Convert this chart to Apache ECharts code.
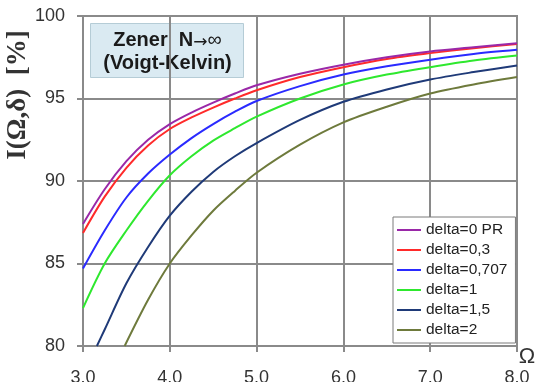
<!DOCTYPE html>
<html>
<head>
<meta charset="utf-8">
<script src="https://cdn.jsdelivr.net/npm/echarts@6/dist/echarts.min.js"></script>
<style>
  html, body { margin: 0; padding: 0; background: #fff; }
  #chart { width: 543px; height: 382px; }
</style>
</head>
<body>
<div id="chart"></div>
<script>
// Frequency grid (Ω) and intensity values I(Ω,δ) in percent for each damping ratio
const omegaFull = [3, 3.25, 3.5, 3.75, 4, 4.25, 4.5, 4.75, 5, 5.5, 6, 6.5, 7, 7.5, 8];
const delta0    = [87.4, 89.5, 91.2, 92.5, 93.45, 94.15, 94.75, 95.3, 95.8, 96.5, 97.05, 97.5, 97.85, 98.1, 98.35];
const delta03   = [86.85, 89.05, 90.8, 92.15, 93.15, 93.85, 94.45, 95.0, 95.5, 96.3, 96.9, 97.4, 97.75, 98.05, 98.3];
const delta0707 = [84.7, 87.0, 89.0, 90.45, 91.6, 92.6, 93.45, 94.2, 94.85, 95.75, 96.45, 96.95, 97.35, 97.7, 97.95];
const delta1    = [82.3, 85.0, 87.0, 88.8, 90.35, 91.5, 92.45, 93.2, 93.9, 95.0, 95.85, 96.45, 96.9, 97.3, 97.6];

const omegaD15 = [3.16, 3.25, 3.5, 3.75, 4, 4.25, 4.5, 4.75, 5, 5.5, 6, 6.5, 7, 7.5, 8];
const delta15  = [80, 81.0, 83.8, 86.0, 87.9, 89.35, 90.55, 91.5, 92.3, 93.7, 94.8, 95.55, 96.15, 96.6, 97.0];

const omegaD2  = [3.48, 3.75, 4, 4.25, 4.5, 4.75, 5, 5.5, 6, 6.5, 7, 7.5, 8];
const delta2   = [80, 82.8, 85.0, 86.7, 88.2, 89.4, 90.5, 92.2, 93.55, 94.5, 95.3, 95.85, 96.3];

const seriesNames = ['delta=0 PR', 'delta=0,3', 'delta=0,707', 'delta=1', 'delta=1,5', 'delta=2'];
const seriesColors = ['#9a28a8', '#ff2a2a', '#2a2aff', '#2ee82e', '#1f3a78', '#6e7a3c'];

const xTicks = [3, 4, 5, 6, 7, 8];
const yTicks = [80, 85, 90, 95, 100];

function pairs(xs, ys) {
  return xs.map((x, i) => [x, ys[i]]);
}

const seriesData = [
  pairs(omegaFull, delta0),
  pairs(omegaFull, delta03),
  pairs(omegaFull, delta0707),
  pairs(omegaFull, delta1),
  pairs(omegaD15, delta15),
  pairs(omegaD2, delta2)
];

const gridColor = '#8a8a8a';
const labelFont = 'Liberation Sans, Arial, sans-serif';

const chart = echarts.init(document.getElementById('chart'), null, { renderer: 'canvas' });

chart.setOption({
  backgroundColor: '#ffffff',
  animation: false,
  grid: {
    left: 83, right: 26, top: 16, bottom: 36,
    containLabel: false,
    outerBoundsMode: 'none',
    show: true, borderColor: gridColor, borderWidth: 2, backgroundColor: 'transparent'
  },
  xAxis: {
    type: 'value',
    min: xTicks[0], max: xTicks[xTicks.length - 1], interval: 1,
    axisLine: { show: true, lineStyle: { color: gridColor, width: 2 } },
    axisTick: { show: true, length: 6, lineStyle: { color: gridColor, width: 2 } },
    splitLine: { show: true, lineStyle: { color: gridColor, width: 2 } },
    axisLabel: {
      margin: 23, color: '#333', fontSize: 18, fontFamily: labelFont,
      formatter: v => v.toFixed(1)
    }
  },
  yAxis: {
    type: 'value',
    min: yTicks[0], max: yTicks[yTicks.length - 1], interval: 5,
    axisLine: { show: true, lineStyle: { color: gridColor, width: 2 } },
    axisTick: { show: true, length: 6, lineStyle: { color: gridColor, width: 2 } },
    splitLine: { show: true, lineStyle: { color: gridColor, width: 2 } },
    axisLabel: { margin: 18, color: '#333', fontSize: 18, fontFamily: labelFont }
  },
  legend: {
    orient: 'vertical',
    left: 393, top: 217,
    width: 125,
    padding: [5, 8, 5, 4],
    itemGap: 4,
    itemWidth: 24, itemHeight: 2,
    itemStyle: { borderWidth: 0 },
    icon: 'rect',
    backgroundColor: '#ffffff',
    borderColor: '#7a7a7a', borderWidth: 1,
    textStyle: { color: '#222', fontSize: 15.5, fontFamily: labelFont },
    data: seriesNames
  },
  graphic: [
    {
      type: 'group', left: 90, top: 23,
      children: [
        { type: 'rect', shape: { x: 0, y: 0, width: 153, height: 54 },
          style: { fill: '#daeaf2', stroke: '#b5ccd6', lineWidth: 1 } },
        { type: 'text', x: 77, y: 17,
          style: { text: '{a|Zener  N}{b|→}{c|∞}', align: 'center', verticalAlign: 'middle',
            rich: {
              a: { fontSize: 20, fontWeight: 'bold', fontFamily: labelFont, fill: '#1a1a1a' },
              b: { fontSize: 17, fontFamily: 'DejaVu Sans, sans-serif', fill: '#1a1a1a', padding: [4, 0, 0, 0] },
              c: { fontSize: 20, fontFamily: labelFont, fill: '#1a1a1a' }
            } } },
        { type: 'text', x: 77, y: 40,
          style: { text: '(Voigt-Kelvin)', align: 'center', verticalAlign: 'middle',
            fontSize: 20, fontWeight: 'bold', fontFamily: labelFont, fill: '#1a1a1a' } }
      ]
    },
    {
      type: 'text', x: 18, y: 95, rotation: Math.PI / 2,
      style: { text: 'I(Ω,δ)  [%]', align: 'center', verticalAlign: 'middle',
        fontSize: 27, fontWeight: 'bold', fontFamily: 'Liberation Serif, Times New Roman, serif', fill: '#333' }
    },
    {
      type: 'text', x: 527, y: 357,
      style: { text: 'Ω', align: 'center', verticalAlign: 'middle',
        fontSize: 22, fontFamily: labelFont, fill: '#333' }
    }
  ],
  series: seriesNames.map((name, i) => ({
    name: name,
    type: 'line',
    data: seriesData[i],
    smooth: 0.3,
    showSymbol: false,
    symbol: 'none',
    clip: true,
    color: seriesColors[i],
    lineStyle: { color: seriesColors[i], width: 2 },
    z: 10 - i
  }))
});
</script>
</body>
</html>
